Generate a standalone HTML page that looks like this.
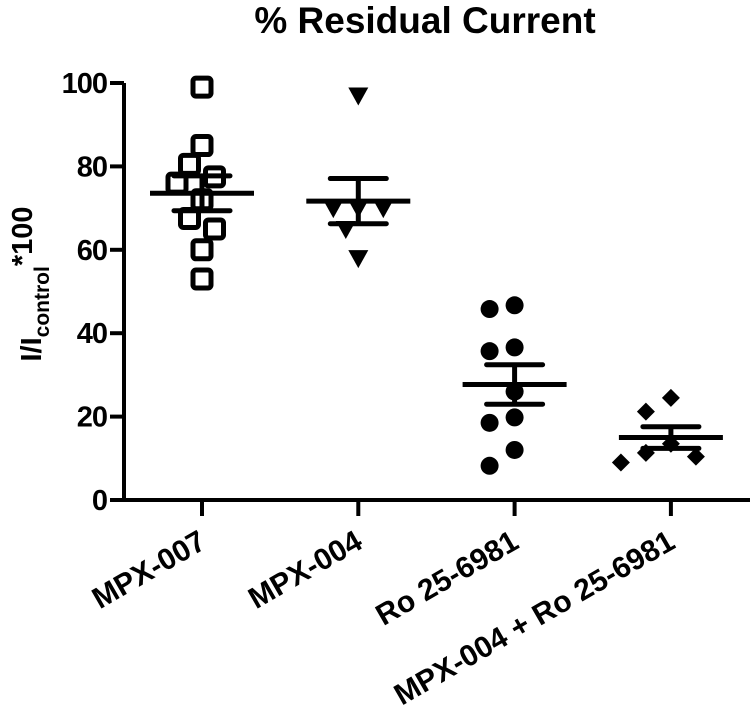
<!DOCTYPE html>
<html><head><meta charset="utf-8"><style>
body{margin:0;background:#fff;}
svg{display:block;font-family:"Liberation Sans",Arial,sans-serif;font-weight:bold;}
</style></head><body>
<svg id="chart" width="750" height="708" viewBox="0 0 750 708" xmlns="http://www.w3.org/2000/svg">
<text x="425" y="33" font-size="37" text-anchor="middle">% Residual Current</text>
<g transform="translate(41,284) rotate(-90)">
<text font-size="29" text-anchor="middle">I/I<tspan font-size="21" dy="8">control</tspan><tspan dy="-17">*100</tspan></text>
</g>
<g id="axes"></g>
<g id="marks"></g>
</svg>
<script>
const categories=["MPX-007","MPX-004","Ro 25-6981","MPX-004 + Ro 25-6981"];
const valsMPX007=[99,85,80.5,77.5,76,72,67.5,65,60,53];
const valsMPX004=[97,70,70,70,65,58];
const valsRo=[45.8,46.7,36.6,35.7,26,19.8,18.5,12,8.2];
const valsCombo=[24.5,21.2,13.5,11.3,10.4,9];
const yTicks=[0,20,40,60,80,100];
const groups=[valsMPX007,valsMPX004,valsRo,valsCombo];
const shapes=["square","tri","circle","diamond"];
const NS="http://www.w3.org/2000/svg";
const X0=124,X1=750,Y0=500,Y100=83;
const y=v=>Y0+(Y100-Y0)*v/100;
const xc=i=>202+i*156.3;
function mk(tag,attrs,parent){const e=document.createElementNS(NS,tag);for(const k in attrs)e.setAttribute(k,attrs[k]);parent.appendChild(e);return e;}
const axes=document.getElementById('axes'),marks=document.getElementById('marks');
let a=mk('line',{x1:X0,y1:y(0)+2,x2:X0,y2:y(100),stroke:'#000','stroke-width':4},axes);


a=mk('line',{x1:X0-2,y1:Y0,x2:X1,y2:Y0,stroke:'#000','stroke-width':4},axes);


yTicks.forEach(t=>{
 const l=mk('line',{x1:X0-14,y1:y(t),x2:X0,y2:y(t),stroke:'#000','stroke-width':4},axes);
 
 
 const tx=mk('text',{x:X0-17,y:y(t)+10,'font-size':29,'text-anchor':'end','letter-spacing':'-1'},axes);
 tx.textContent=t;
 
 
});
categories.forEach((c,i)=>{
 const l=mk('line',{x1:xc(i),y1:Y0,x2:xc(i),y2:Y0+16,stroke:'#000','stroke-width':4},axes);
 
 
 const tx=mk('text',{'font-size':30,'text-anchor':'end',transform:`translate(${xc(i)+6},${Y0+47}) rotate(-30)`},axes);
 tx.textContent=c;
 
 
});
function swarm(vals){
 const order=vals.map((v,i)=>i).sort((p,q)=>vals[q]-vals[p]);
 const placed=[],off=new Array(vals.length).fill(0);
 order.forEach(i=>{
  const py=y(vals[i]);
  for(let k=0;k<12;k++){
   const d=(k===0?0:(k%2?-1:1)*Math.ceil(k/2)*12.5);
   if(placed.every(p=>Math.hypot(p.x-d,p.y-py)>=21)){off[i]=d;placed.push({x:d,y:py});break;}
  }
 });
 return off;
}
groups.forEach((vals,gi)=>{
 const cx=xc(gi),offs=swarm(vals),s=shapes[gi];
 vals.forEach((v,j)=>{
  const px=cx+offs[j],py=y(v);let m;
  if(s==='square')m=mk('rect',{x:px-9,y:py-9,width:18,height:18,rx:3,fill:'none',stroke:'#000','stroke-width':5},marks);
  else if(s==='tri')m=mk('polygon',{points:`${px-10},${py-8} ${px+10},${py-8} ${px},${py+10}`,fill:'#000'},marks);
  else if(s==='circle')m=mk('circle',{cx:px,cy:py,r:9,fill:'#000'},marks);
  else m=mk('polygon',{points:`${px},${py-9} ${px+9},${py} ${px},${py+9} ${px-9},${py}`,fill:'#000'},marks);
  
  
 });
 const n=vals.length,mean=vals.reduce((p,q)=>p+q,0)/n;
 const sd=Math.sqrt(vals.reduce((p,q)=>p+(q-mean)**2,0)/(n-1)),sem=sd/Math.sqrt(n);
 let l=mk('line',{x1:cx-52,x2:cx+52,y1:y(mean),y2:y(mean),stroke:'#000','stroke-width':5},marks);
 
 
 l=mk('line',{x1:cx,x2:cx,y1:y(mean+sem),y2:y(mean-sem),stroke:'#000','stroke-width':5},marks);
 
 
 [mean+sem,mean-sem].forEach(v=>{
  const c=mk('line',{x1:cx-28,x2:cx+28,y1:y(v),y2:y(v),stroke:'#000','stroke-width':5,'stroke-linecap':'round'},marks);
  
  
 });
});
</script>
</body></html>
